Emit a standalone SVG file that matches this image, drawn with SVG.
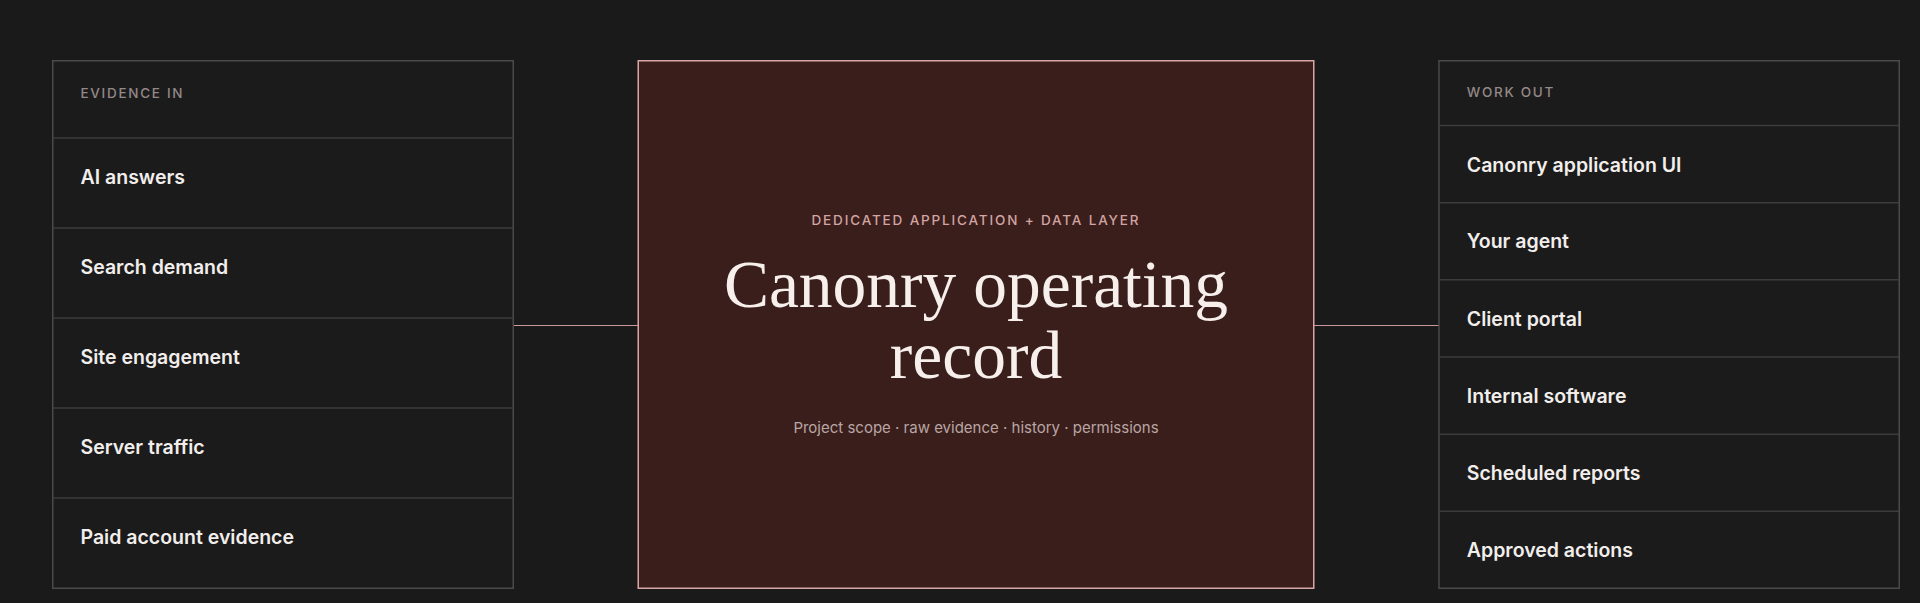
<svg xmlns="http://www.w3.org/2000/svg" width="1920" height="603" viewBox="0 0 1920 603">
<style>
.panel{fill:#1b1b1b;stroke:#4a4a4a;stroke-width:1.5}
.div{stroke:#3c3c3c;stroke-width:1.5}
.hdr{font-family:Inter,"Liberation Sans",sans-serif;font-size:13.5px;font-weight:500;letter-spacing:1.7px;fill:#948888}
.item{font-family:Inter,"Liberation Sans",sans-serif;font-size:19.5px;font-weight:600;fill:#f2eeec}
.conn{stroke:#c9999b;stroke-width:1.2}
.center{fill:#3a1e1b;stroke:#d6a7a6;stroke-width:1.5}
.kicker{font-family:Inter,"Liberation Sans",sans-serif;font-size:13.5px;font-weight:500;letter-spacing:1.85px;fill:#d2a4a2}
.title{font-family:"Liberation Serif",serif;font-size:67.5px;fill:#f6efec}
.sub{font-family:Inter,"Liberation Sans",sans-serif;font-size:15px;fill:#b9a6a4}
</style>
<rect width="1920" height="603" fill="#1a1a1a"/>
<g id="connectors">
<line class="conn" x1="514" y1="325.5" x2="638" y2="325.5"/>
<line class="conn" x1="1314" y1="325.5" x2="1439" y2="325.5"/>
</g>
<g id="evidence-in">
<rect class="panel" x="52.75" y="60.75" width="460.5" height="527.5"/>
<line class="div" x1="53" y1="138" x2="513" y2="138"/>
<line class="div" x1="53" y1="228" x2="513" y2="228"/>
<line class="div" x1="53" y1="318" x2="513" y2="318"/>
<line class="div" x1="53" y1="408" x2="513" y2="408"/>
<line class="div" x1="53" y1="498" x2="513" y2="498"/>
<text class="hdr" x="80.5" y="97.5">EVIDENCE IN</text>
<text class="item" x="80.5" y="183.5">AI answers</text>
<text class="item" x="80.5" y="273.8">Search demand</text>
<text class="item" x="80.5" y="364">Site engagement</text>
<text class="item" x="80.5" y="454.3">Server traffic</text>
<text class="item" x="80.5" y="544.3">Paid account evidence</text>
</g>
<g id="operating-record">
<rect class="center" x="638.25" y="60.75" width="675.5" height="527.5"/>
<text class="kicker" x="976" y="225" text-anchor="middle">DEDICATED APPLICATION + DATA LAYER</text>
<text class="title" x="976" y="306.7" text-anchor="middle">Canonry operating</text>
<text class="title" x="976" y="378.3" text-anchor="middle">record</text>
<text class="sub" x="976" y="432.7" text-anchor="middle">Project scope · raw evidence · history · permissions</text>
</g>
<g id="work-out">
<rect class="panel" x="1439" y="60.75" width="460.25" height="527.5"/>
<line class="div" x1="1439" y1="125.5" x2="1899" y2="125.5"/>
<line class="div" x1="1439" y1="202.7" x2="1899" y2="202.7"/>
<line class="div" x1="1439" y1="279.8" x2="1899" y2="279.8"/>
<line class="div" x1="1439" y1="357" x2="1899" y2="357"/>
<line class="div" x1="1439" y1="434.2" x2="1899" y2="434.2"/>
<line class="div" x1="1439" y1="511.3" x2="1899" y2="511.3"/>
<text class="hdr" x="1466.8" y="97.3">WORK OUT</text>
<text class="item" x="1466.8" y="171.7">Canonry application UI</text>
<text class="item" x="1466.8" y="248.3">Your agent</text>
<text class="item" x="1466.8" y="325.7">Client portal</text>
<text class="item" x="1466.8" y="402.7">Internal software</text>
<text class="item" x="1466.8" y="480">Scheduled reports</text>
<text class="item" x="1466.8" y="557.3">Approved actions</text>
</g>
</svg>
